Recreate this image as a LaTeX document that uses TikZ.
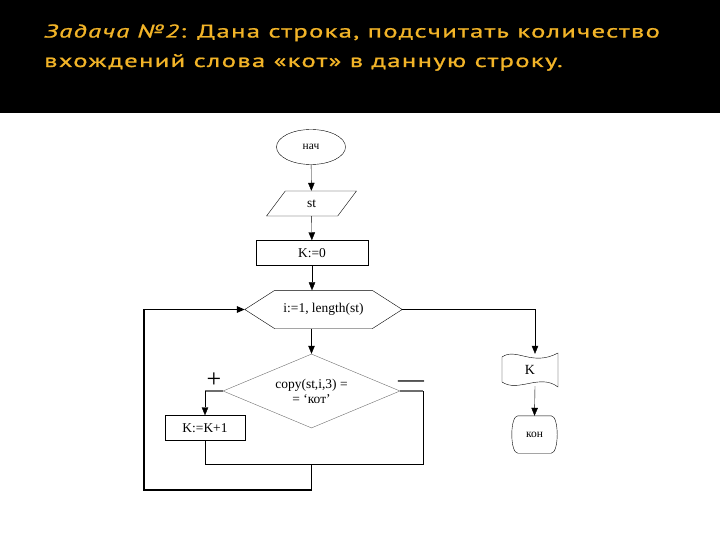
\documentclass[tikz,border=0pt]{standalone}
\usepackage{fontspec}
\setmainfont{Liberation Serif}
\newfontfamily\titlefont[FakeStretch=1.45,LetterSpace=7,FakeBold=1]{PT Sans}
\usepackage{xcolor}
\definecolor{gold}{HTML}{F2B428}
\definecolor{wire}{HTML}{6E6E6E}
\usetikzlibrary{positioning,shapes.geometric,arrows.meta}

\begin{document}
\begin{tikzpicture}[
  x=1bp, y=-1bp,
  font=\fontsize{13.5}{15}\selectfont,
  every node/.style={inner sep=1bp},
  headline/.style={anchor=base west, text=gold, font=\titlefont\fontsize{18.5}{22}\selectfont},
  term/.style={draw, ellipse, minimum width=69bp, minimum height=35bp},
  io/.style={draw, trapezium, trapezium left angle=68, trapezium right angle=112,
             trapezium stretches=true, minimum width=90bp, minimum height=25bp},
  proc/.style={draw, rectangle, minimum height=25bp},
  hexbox/.style={rectangle, minimum width=157bp, minimum height=38bp},
  cond/.style={draw=wire, diamond, aspect=2.4, inner sep=0pt,
               minimum width=177bp, minimum height=74bp, align=center},
  docbox/.style={rectangle, minimum width=56bp, minimum height=32bp},
  fin/.style={rectangle, minimum width=43bp, minimum height=37bp},
  signmark/.style={font=\fontsize{26}{26}\selectfont},
  link/.style={-{Triangle[length=8bp,width=6.5bp]}},
  branch/.style={wire, line width=1.6bp}
]
  \useasboundingbox (0,0) rectangle (720,540);
  \fill[black] (0,0) rectangle (720,113);

  \node[headline] (title1) at (43,37.5) {\textit{Задача №2}: Дана строка, подсчитать количество};
  \node[headline] (title2) at (43,67) {вхождений слова «кот» в данную строку.};

  \node[term, font=\fontsize{11.5}{12}\selectfont] (start) at (311,147) {нач};
  \node[io] (inp) at (311.5,203.5) {st};
  \node[proc, minimum width=112bp] (init) at (312,253) {K:=0};
  \node[hexbox] (loop) at (323.5,309.5) {i:=1, length(st)};
  \draw (loop.west) -- ([xshift=30bp]loop.north west) -- ([xshift=-30bp]loop.north east)
     -- (loop.east) -- ([xshift=-30bp]loop.south east) -- ([xshift=30bp]loop.south west) -- cycle;
  \node[cond] (test) at (311.5,391) {copy(st,i,3) =\\= ‘кот’};
  \node[proc, minimum width=80bp] (inc) at (205,428) {K:=K+1};

  \node[docbox, font=\fontsize{14}{15}\selectfont] (out) at (530,370) {K};
  \draw (502,357) .. controls (516,347) and (532,367) .. (558,353)
     -- (558,387) .. controls (540,373) and (518,393) .. (502,382) -- cycle;
  \node[fin, font=\fontsize{11.5}{12}\selectfont] (stop) at (534.5,434.5) {кон};
  \draw ([xshift=5bp]stop.north west) -- ([xshift=-5bp]stop.north east)
     .. controls ([xshift=3bp]stop.north east) and ([xshift=3bp]stop.south east) .. ([xshift=-5bp]stop.south east)
     -- ([xshift=5bp]stop.south west)
     .. controls ([xshift=-3bp]stop.south west) and ([xshift=-3bp]stop.north west) .. cycle;

  % branch marks
  \node[signmark] (yes) at (214,380) {+};
  \node[signmark] (no) at (411,384) {—};

  \coordinate (joinR) at (423,464);
  \coordinate (joinL) at (inc.south |- joinR);
  \coordinate (back) at (144,490);

  \draw[link] (start) -- (inp);
  \draw[link] (inp) -- (init);
  \draw[link] (init.south) -- (init.south |- loop.north);
  \draw[link] (test.north |- loop.south) -- (test.north);
  \draw[branch] (test.west) -- (test.west -| inc.north);
  \draw[link] (test.west -| inc.north) -- (inc.north);
  \draw[branch] (test.east) -- (test.east -| joinR);
  \draw (test.east -| joinR) -- (joinR) -- (joinL) -- (inc.south);
  \draw[link, line width=1.6bp] (test.north |- joinR) |- (back) |- (loop.west);
  \draw[link] (loop.east) -| ([xshift=5bp]out.north);
  \draw[link] ([xshift=5bp]out.south) -- (stop.north);
\end{tikzpicture}
\end{document}
